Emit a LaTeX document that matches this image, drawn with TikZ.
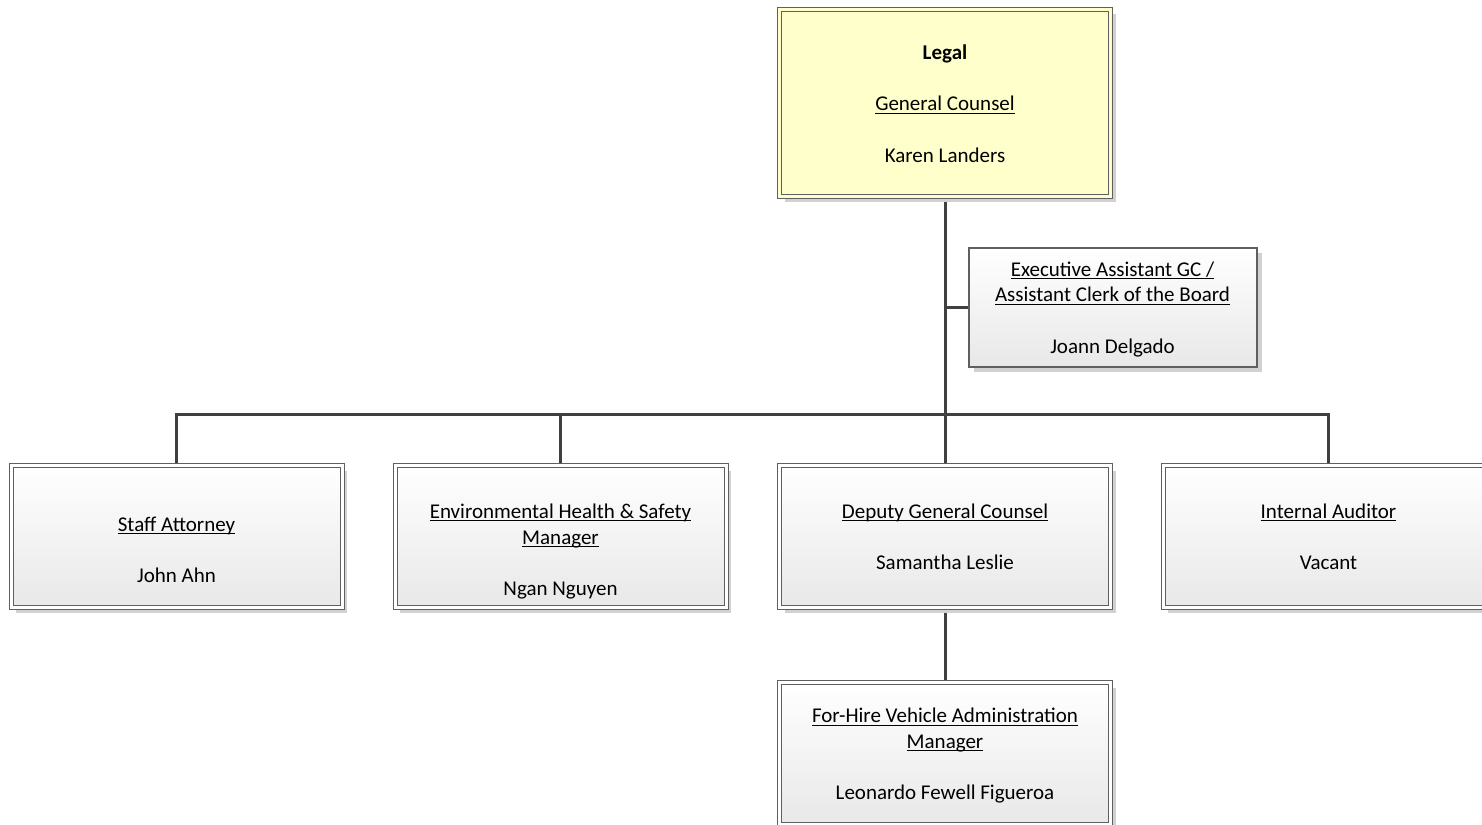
\documentclass[tikz,border=0pt]{standalone}
\usepackage{fontspec}
\setmainfont{Carlito}
\usetikzlibrary{shadows,backgrounds}

\definecolor{boxline}{RGB}{95,95,95}
\definecolor{boxgray}{RGB}{232,232,232}
\definecolor{legalfill}{RGB}{255,255,204}
\definecolor{wire}{RGB}{64,64,64}

\begin{document}
\begin{tikzpicture}[x=1pt, y=-1pt,
	unit/.style={draw=boxline, line width=1pt, double=white, double distance=3pt,
		top color=white, bottom color=boxgray, minimum width=331pt, minimum height=142pt,
		inner sep=0pt, align=center, font=\fontsize{21}{25.7}\selectfont,
		drop shadow={shadow xshift=5pt, shadow yshift=-5pt, fill=black!18, opacity=1}},
	wire/.style={draw=wire, line width=3pt}]

	% \underscored#text
	\def\underscored#1{\setbox0\hbox{#1}\rlap{\rule[-3pt]{\wd0}{1.1pt}}\box0}
	% room above the first line
	\def\lead{\rule{0pt}{23pt}}

	\useasboundingbox (0, 0) rectangle (1482, 824);

	% top
	\node[unit, double=legalfill, top color=legalfill, bottom color=legalfill, minimum height=187pt] (legal) at (945, 103)
		{\lead\textbf{Legal}\\~\\\underscored{General Counsel}\\~\\Karen Landers\strut};
	\node[unit, double distance=0pt, line width=1pt, draw=boxline, minimum width=288pt, minimum height=119pt] (exec) at (1112.5, 307)
		{\lead\underscored{Executive Assistant GC /}\\\underscored{Assistant Clerk of the Board}\\~\\Joann Delgado\strut};

	% second row
	\node[unit] (staff) at (176.5, 536.5) {\lead~\\\underscored{Staff Attorney}\\~\\John Ahn\strut};
	\node[unit] (ehs) at (560.5, 536.5) {\lead~\\\underscored{Environmental Health \& Safety}\\\underscored{Manager}\\~\\Ngan Nguyen\strut};
	\node[unit] (deputy) at (945, 536.5) {\lead\underscored{Deputy General Counsel}\\~\\Samantha Leslie\strut};
	\node[unit] (audit) at (1328.5, 536.5) {\lead\underscored{Internal Auditor}\\~\\Vacant\strut};

	% third row
	\node[unit] (fhv) at (945, 753.5) {\lead\underscored{For-Hire Vehicle Administration}\\\underscored{Manager}\\~\\Leonardo Fewell Figueroa\strut};

	% connectors
	\coordinate (bus) at (945, 414);
	\begin{scope}[on background layer]
		\draw[wire] (legal.south) -- (deputy.north);
		\draw[wire] (exec.west) -- (exec.west -| legal.south);
		\foreach \n in {staff, ehs, audit} {
			\draw[wire] (\n.north) |- (bus);
		}
		\draw[wire] (deputy.south) -- (fhv.north);
	\end{scope}
\end{tikzpicture}
\end{document}
